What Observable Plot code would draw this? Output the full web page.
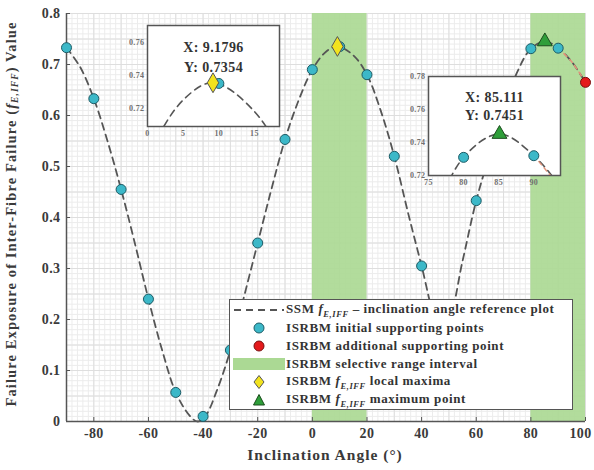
<!DOCTYPE html>
<html><head><meta charset="utf-8">
<script src="https://cdn.jsdelivr.net/npm/d3@7"></script>
<script src="https://cdn.jsdelivr.net/npm/@observablehq/plot@0.6"></script>
<style>
body{margin:0;background:#fff;}
#wrap{position:relative;width:594px;height:470px;font-family:"Liberation Serif",serif;}
#wrap svg text{font-weight:bold;letter-spacing:0.4px;}
.inset{position:absolute;}
.inset svg text{font-weight:normal;letter-spacing:0;}
.inset svg .big text{font-weight:bold;}
#legend{position:absolute;left:229px;top:299px;width:342px;height:108px;border:1.5px solid #555;background:#fff;box-sizing:content-box;font-size:13px;font-weight:bold;color:#333;letter-spacing:0.6px;}
#legend .row{height:18px;display:flex;align-items:center;}
#legend .row svg{width:54px;height:18px;flex:none;margin-left:2px;}
#legend .row span{white-space:nowrap;}
</style></head>
<body><div id="wrap"></div>
<script>
// Reference curve
const curveX = [-90,-85,-80,-75,-70,-65,-60,-55,-50,-45,-42,-39,-35,-30,-25,-20,-15,-10,-5,0,5,9.18,15,20,25,30,35,40,45,47,50,55,60,65,70,75,80,85.1,90,95,100];
const curveY = [0.733,0.695,0.633,0.55,0.455,0.35,0.24,0.14,0.057,0.012,0.0,0.012,0.06,0.14,0.245,0.35,0.455,0.553,0.63,0.69,0.725,0.7354,0.718,0.68,0.61,0.52,0.41,0.305,0.2,0.185,0.2,0.315,0.433,0.525,0.61,0.685,0.731,0.7451,0.732,0.705,0.665];
// Initial supporting points
const initX = [-90,-80,-70,-60,-50,-40,-30,-20,-10,0,10,20,30,40,50,60,70,80,90];
const initY = [0.733,0.633,0.455,0.24,0.057,0.01,0.14,0.35,0.553,0.69,0.735,0.68,0.52,0.305,0.2,0.433,0.61,0.731,0.732];
// Additional supporting point
const addX = [100];
const addY = [0.665];
// Selective range intervals
const rangeStart = [0, 80];
const rangeEnd = [20, 100];
// Local maxima and maximum point
const localMaxX = [9.1796];
const localMaxY = [0.7354];
const maxX = [85.111];
const maxY = [0.7451];
// Tick values
const xTicks = [-80,-60,-40,-20,0,20,40,60,80,100];
const yTicks = [0,0.1,0.2,0.3,0.4,0.5,0.6,0.7,0.8];
const inset1XTicks = [0,5,10,15];
const inset1YTicks = [0.72,0.74,0.76];
const inset2XTicks = [75,80,85,90];
const inset2YTicks = [0.72,0.74,0.76,0.78];

const curve = curveX.map((x,i)=>({x, y:curveY[i]}));
const init = initX.map((x,i)=>({x, y:initY[i]}));
const add = addX.map((x,i)=>({x, y:addY[i]}));
const bands = rangeStart.map((a,i)=>({a, b:rangeEnd[i]}));
const lmax = localMaxX.map((x,i)=>({x, y:localMaxY[i]}));
const gmax = maxX.map((x,i)=>({x, y:maxY[i]}));
const redCurve = curve.filter(d=>d.x>=90);

const CYAN="#3cb8c8", CYAN_S="#1d5c66", RED="#e41a1c", RED_S="#7a1010", YEL="#f2e31e", GRN="#2f9e3a", GRN_S="#1b4d1d", BAND="#abd994", LINE="#555", REDLINE="#e0937a";

const wrap = document.getElementById("wrap");

const main = Plot.plot({
  width:594, height:470, marginLeft:66, marginRight:9, marginTop:13, marginBottom:49,
  x:{domain:[-90,100]}, y:{domain:[0,0.8]},
  style:{fontFamily:"Liberation Serif", fontSize:"14px", color:"#3a3a3a", background:"white"},
  marks:[
    Plot.gridX(d3.range(-90,101,2), {stroke:"#ececec", strokeOpacity:1}),
    Plot.gridY(d3.range(0,0.801,0.01), {stroke:"#ececec", strokeOpacity:1}),
    Plot.gridX(d3.range(-90,101,10), {stroke:"#dedede", strokeOpacity:1}),
    Plot.gridY(d3.range(0,0.801,0.05), {stroke:"#dedede", strokeOpacity:1}),
    Plot.rect(bands, {x1:"a", x2:"b", fill:BAND, fillOpacity:0.92}),
    Plot.ruleY([0], {stroke:LINE, strokeWidth:1.5}),
    Plot.ruleX([-90], {stroke:LINE, strokeWidth:1.5}),
    Plot.ruleX(xTicks, {stroke:LINE, insetTop:404}),
    Plot.ruleY(yTicks, {stroke:LINE, insetRight:515}),
    Plot.axisX({ticks:xTicks, tickSize:0, tickPadding:7, tickFormat:d=>String(d), label:null}),
    Plot.axisY({ticks:yTicks, tickSize:0, tickPadding:6, tickFormat:d=>d===0?"0":d.toFixed(1), label:null}),
    Plot.line(curve, {x:"x", y:"y", curve:"catmull-rom", stroke:LINE, strokeWidth:1.8, strokeDasharray:"7,5"}),
    Plot.line(redCurve, {x:"x", y:"y", curve:"catmull-rom", stroke:REDLINE, strokeWidth:1.6, strokeDasharray:"4,4"}),
    Plot.dot(init, {x:"x", y:"y", r:5, fill:CYAN, stroke:CYAN_S, strokeWidth:1}),
    Plot.dot(add, {x:"x", y:"y", r:5, fill:RED, stroke:RED_S, strokeWidth:1}),
    Plot.dot(lmax, {x:"x", y:"y", r:6, symbol:"diamond", fill:YEL, stroke:"#555", strokeWidth:1}),
    Plot.dot(gmax, {x:"x", y:"y", r:5.5, symbol:"triangle", fill:GRN, stroke:GRN_S, strokeWidth:1})
  ]
});
wrap.appendChild(main);

const svg = d3.select(main);
// keep the last x tick label inside the picture
svg.selectAll("text").filter(function(){ return this.textContent === "100"; }).attr("dx", -5);

// axis labels with italic symbol and subscript
const yl = svg.append("text").attr("transform","translate(13,214) rotate(-90)").attr("text-anchor","middle")
  .attr("dominant-baseline","middle").attr("fill","#3a3a3a").style("font-size","14.5px").style("font-weight","bold").style("letter-spacing","1.1px");
yl.append("tspan").text("Failure Exposure of Inter-Fibre Failure (");
yl.append("tspan").attr("font-style","italic").text("f");
yl.append("tspan").attr("font-style","italic").attr("dy","3").style("font-size","9.5px").text("E,IFF");
yl.append("tspan").attr("dy","-3").text(") Value");
svg.append("text").attr("x",325).attr("y",460).attr("text-anchor","middle").attr("fill","#3a3a3a")
  .style("font-size","15.5px").style("font-weight","bold").style("letter-spacing","1px").text("Inclination Angle (°)");

function inset(opts){
  const {left, top, fw, fh, xd, yd, xt, yt, pts, tag} = opts;
  const ml=30, mr=3, mt=3, mb=16;
  const inDom = d=>d.x>=xd[0]&&d.x<=xd[1]&&d.y>=yd[0]&&d.y<=yd[1];
  const p = Plot.plot({
    width:fw+ml+mr, height:fh+mt+mb, marginLeft:ml, marginRight:mr, marginTop:mt, marginBottom:mb,
    x:{domain:xd}, y:{domain:yd},
    style:{fontFamily:"Liberation Serif", fontSize:"8px", color:"#707070", background:"transparent", overflow:"visible"},
    marks:[
      Plot.frame({fill:"white", stroke:LINE, strokeWidth:1.5}),
      Plot.axisX({ticks:xt, tickSize:0, tickPadding:4, label:null}),
      Plot.axisY({ticks:yt, tickSize:0, tickPadding:3, tickFormat:d=>d.toFixed(2), label:null}),
      Plot.line(curve, {x:"x", y:"y", curve:"catmull-rom", stroke:LINE, strokeWidth:1.6, strokeDasharray:"7,5", clip:true}),
      opts.red ? Plot.line(redCurve, {x:"x", y:"y", curve:"catmull-rom", stroke:REDLINE, strokeWidth:1.4, strokeDasharray:"4,4", clip:true}) : null,
      Plot.dot(init.filter(inDom), {x:"x", y:"y", r:5, fill:CYAN, stroke:CYAN_S, strokeWidth:1}),
      ...pts,
      Plot.text(tag, {text:d=>"X: "+d.x, frameAnchor:"top", lineAnchor:"middle", dy:opts.dy1, fontSize:14, fill:"#333", className:"big"}),
      Plot.text(tag, {text:d=>"Y: "+d.y, frameAnchor:"top", lineAnchor:"middle", dy:opts.dy2, fontSize:14, fill:"#333", className:"big"})
    ]
  });
  p.classList.add("inset");
  p.style.left = (left-ml)+"px";
  p.style.top = (top-mt)+"px";
  wrap.appendChild(p);
}
inset({left:147, top:25, fw:132, fh:101, xd:[0,18.5], yd:[0.709,0.770], xt:inset1XTicks, yt:inset1YTicks, tag:lmax, dy1:22, dy2:42,
  pts:[Plot.dot(lmax, {x:"x", y:"y", r:6, symbol:"diamond", fill:YEL, stroke:"#555", strokeWidth:1})]});
inset({left:428, top:76, fw:132, fh:99, xd:[75,93.8], yd:[0.72,0.78], xt:inset2XTicks, yt:inset2YTicks, tag:gmax, dy1:21, dy2:39, red:true,
  pts:[Plot.dot(gmax, {x:"x", y:"y", r:5.5, symbol:"triangle", fill:GRN, stroke:GRN_S, strokeWidth:1})]});

// legend
const lg = document.createElement("div");
lg.id = "legend";
const sym = {
  line:`<svg viewBox="0 0 54 18"><line x1="2" y1="9" x2="52" y2="9" stroke="${LINE}" stroke-width="1.8" stroke-dasharray="7,5"/></svg>`,
  cyan:`<svg viewBox="0 0 54 18"><circle cx="27" cy="9" r="5" fill="${CYAN}" stroke="${CYAN_S}"/></svg>`,
  red:`<svg viewBox="0 0 54 18"><circle cx="27" cy="9" r="5" fill="${RED}" stroke="${RED_S}"/></svg>`,
  band:`<svg viewBox="0 0 54 18"><rect x="1" y="3" width="52" height="12" fill="${BAND}"/></svg>`,
  dia:`<svg viewBox="0 0 54 18"><path d="M27,2.5L32,9L27,15.5L22,9Z" fill="${YEL}" stroke="#555"/></svg>`,
  tri:`<svg viewBox="0 0 54 18"><path d="M27,3.5L32.5,14L21.5,14Z" fill="${GRN}" stroke="${GRN_S}"/></svg>`
};
const F = `<i>f</i><sub style="font-size:8.5px;font-style:italic">E,IFF</sub>`;
const rows = [
  [sym.line, `SSM ${F} – inclination angle reference plot`],
  [sym.cyan, "ISRBM initial supporting points"],
  [sym.red, "ISRBM additional supporting point"],
  [sym.band, "ISRBM selective range interval"],
  [sym.dia, `ISRBM ${F} local maxima`],
  [sym.tri, `ISRBM ${F} maximum point`]
];
lg.innerHTML = rows.map(r=>`<div class="row">${r[0]}<span>${r[1]}</span></div>`).join("");
lg.style.paddingTop = "1px";
wrap.appendChild(lg);
</script>
</body></html>
